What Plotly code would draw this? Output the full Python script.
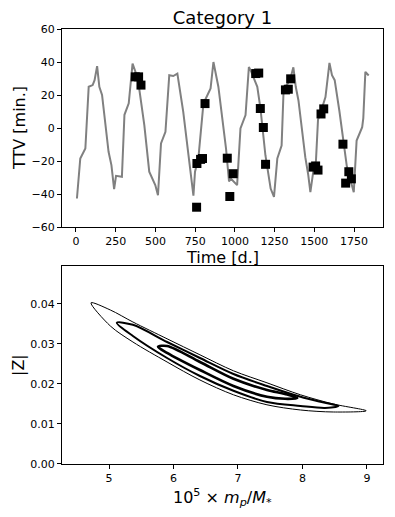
import plotly.graph_objects as go

# ---- TTV model curve (grey line) ----
model_days = [6, 27, 59, 80, 105, 117, 133, 147, 164, 205, 223, 240, 252, 289, 305, 332, 356, 373,
              389, 430, 461, 499, 516, 535, 563, 587, 612, 638, 675, 708, 739, 749, 770, 802, 833,
              847, 865, 896, 944, 963, 974, 1014, 1035, 1067, 1088, 1103, 1141, 1161, 1192, 1225,
              1246, 1267, 1294, 1307, 1326, 1346, 1368, 1383, 1400, 1420, 1443, 1461, 1475, 1494,
              1510, 1523, 1537, 1570, 1595, 1611, 1628, 1658, 1674, 1705, 1748, 1766, 1801, 1808,
              1821, 1842]
model_ttv = [-42.7, -18.5, -12.4, 25, 26, 29, 37.5, 25, 20, -14.4, -22.5, -37, -29, -29.6, 8, 15, 39,
             34, 30, 1.7, -26.5, -34.6, -40.7, -9.4, -2.3, 32, 31.5, 33, 9.8, -16.5, -41, -26.5,
             -18.5, 14.8, 21.9, 24, 40, 25, -12.4, -32.4, -30.6, -34.6, -0.3, 7.8, 37, 34, 25, 11.8,
             -16.5, -36.7, -41.7, -18.5, -10.6, 24.4, 26, 28.8, 36.8, 25, 16.7, 0, -17.7, -28,
             -38.9, -25.8, -20, 5, 8.6, 18.7, 39.5, 32, 29, 10, -1.5, -23.7, -38.9, -7.6, 0.5, 6,
             34, 31.8]

# ---- observed transit timings (black squares) ----
obs_days = [373, 394, 409, 759, 761, 784, 796, 812, 952, 968, 989, 1131, 1150, 1160, 1179, 1193,
            1318, 1336, 1351, 1492, 1508, 1523, 1542, 1559, 1680, 1697, 1717, 1733]
obs_ttv = [31, 31, 26, -48, -21.5, -19, -18.5, 14.8, -18.3, -41.5, -27.7, 33, 33.3, 11.8, 0.3, -22,
           23.1, 23.5, 29.8, -23.7, -23, -25.5, 8.5, 11.6, -9.8, -33.4, -26.5, -30.8]

# ---- posterior contours: left tip, upper edge, right tip, lower edge ----
outer_tips = [(4.72, 0.0403), (8.99, 0.0133)]
outer_x = [5.02, 5.37, 5.90, 6.41, 6.93, 7.45, 7.97, 8.48]
outer_up = [0.0385, 0.0355, 0.0313, 0.0273, 0.0233, 0.0203, 0.0173, 0.0150]
outer_lo = [0.0345, 0.0305, 0.0255, 0.0210, 0.0173, 0.0148, 0.0135, 0.0130]

mid_tips = [(5.12, 0.0353), (8.56, 0.0145)]
mid_x = [5.37, 5.90, 6.41, 6.93, 7.45, 7.97, 8.35]
mid_up = [0.0348, 0.0305, 0.0265, 0.0225, 0.0195, 0.0168, 0.0153]
mid_lo = [0.0320, 0.0265, 0.0220, 0.0183, 0.0155, 0.0145, 0.0140]

inner_tips = [(5.76, 0.0293), (7.92, 0.0165)]
inner_x = [5.90, 6.41, 6.93, 7.45, 7.73]
inner_up = [0.0295, 0.0255, 0.0213, 0.0185, 0.0175]
inner_lo = [0.0278, 0.0235, 0.0195, 0.0168, 0.0163]


def closed_curve(tips, xs, up, lo):
    x = [tips[0][0]] + xs + [tips[1][0]] + xs[::-1] + [tips[0][0]]
    y = [tips[0][1]] + up + [tips[1][1]] + lo[::-1] + [tips[0][1]]
    return x, y


fig = go.Figure()

fig.add_trace(go.Scatter(x=model_days, y=model_ttv, mode='lines',
                         line=dict(color='#808080', width=2), xaxis='x', yaxis='y'))
fig.add_trace(go.Scatter(x=obs_days, y=obs_ttv, mode='markers',
                         marker=dict(symbol='square', size=9, color='black'), xaxis='x', yaxis='y'))

for tips, xs, up, lo, w in [(outer_tips, outer_x, outer_up, outer_lo, 1.0),
                            (mid_tips, mid_x, mid_up, mid_lo, 2.0),
                            (inner_tips, inner_x, inner_up, inner_lo, 2.6)]:
    cx, cy = closed_curve(tips, xs, up, lo)
    fig.add_trace(go.Scatter(x=cx, y=cy, mode='lines',
                             line=dict(color='black', width=w, shape='spline', smoothing=0.9),
                             xaxis='x2', yaxis='y2'))

axis_style = dict(showline=True, mirror=True, linecolor='black', linewidth=1, showgrid=False,
                  zeroline=False, ticks='outside', ticklen=4, tickcolor='black',
                  tickfont=dict(size=11, color='black'))

# page body adds an 8px offset, so the figure is drawn 8px smaller than the window
fig.update_layout(
    width=387, height=509, showlegend=False,
    plot_bgcolor='white', paper_bgcolor='white',
    font=dict(family='DejaVu Sans', color='black'),
    margin=dict(l=54, r=12, t=21, b=53),
    xaxis=dict(domain=[0, 1], anchor='y', range=[-88, 1932],
               tickvals=[0, 250, 500, 750, 1000, 1250, 1500, 1750], **axis_style),
    yaxis=dict(domain=[0.5448, 1], anchor='x', range=[-60, 60], dtick=20, **axis_style),
    xaxis2=dict(domain=[0, 1], anchor='y2', range=[4.27, 9.25], dtick=1, **axis_style),
    yaxis2=dict(domain=[0, 0.4552], anchor='x2', range=[0, 0.0495],
                tickvals=[0, 0.01, 0.02, 0.03, 0.04], tickformat='.2f', **axis_style),
    title=dict(text='Category 1', x=0.5, xref='paper', y=1, yref='container',
               xanchor='center', yanchor='top', pad=dict(t=3, b=0), font=dict(size=18)),
)

labels = [
    dict(text='TTV [min.]', x=-0.134, y=0.7724, textangle=-90),
    dict(text='Time [d.]', x=0.5, y=0.4747, textangle=0),
    dict(text='|Z|', x=-0.134, y=0.2276, textangle=-90),
    dict(text='10<sup>5</sup> × <i>m<sub>p</sub></i>/<i>M</i><sub>*</sub>', x=0.5, y=-0.0759,
         textangle=0),
]
for lab in labels:
    fig.add_annotation(xref='paper', yref='paper', showarrow=False, xanchor='center',
                       yanchor='middle', font=dict(size=16), **lab)

fig.write_html("out.html")
